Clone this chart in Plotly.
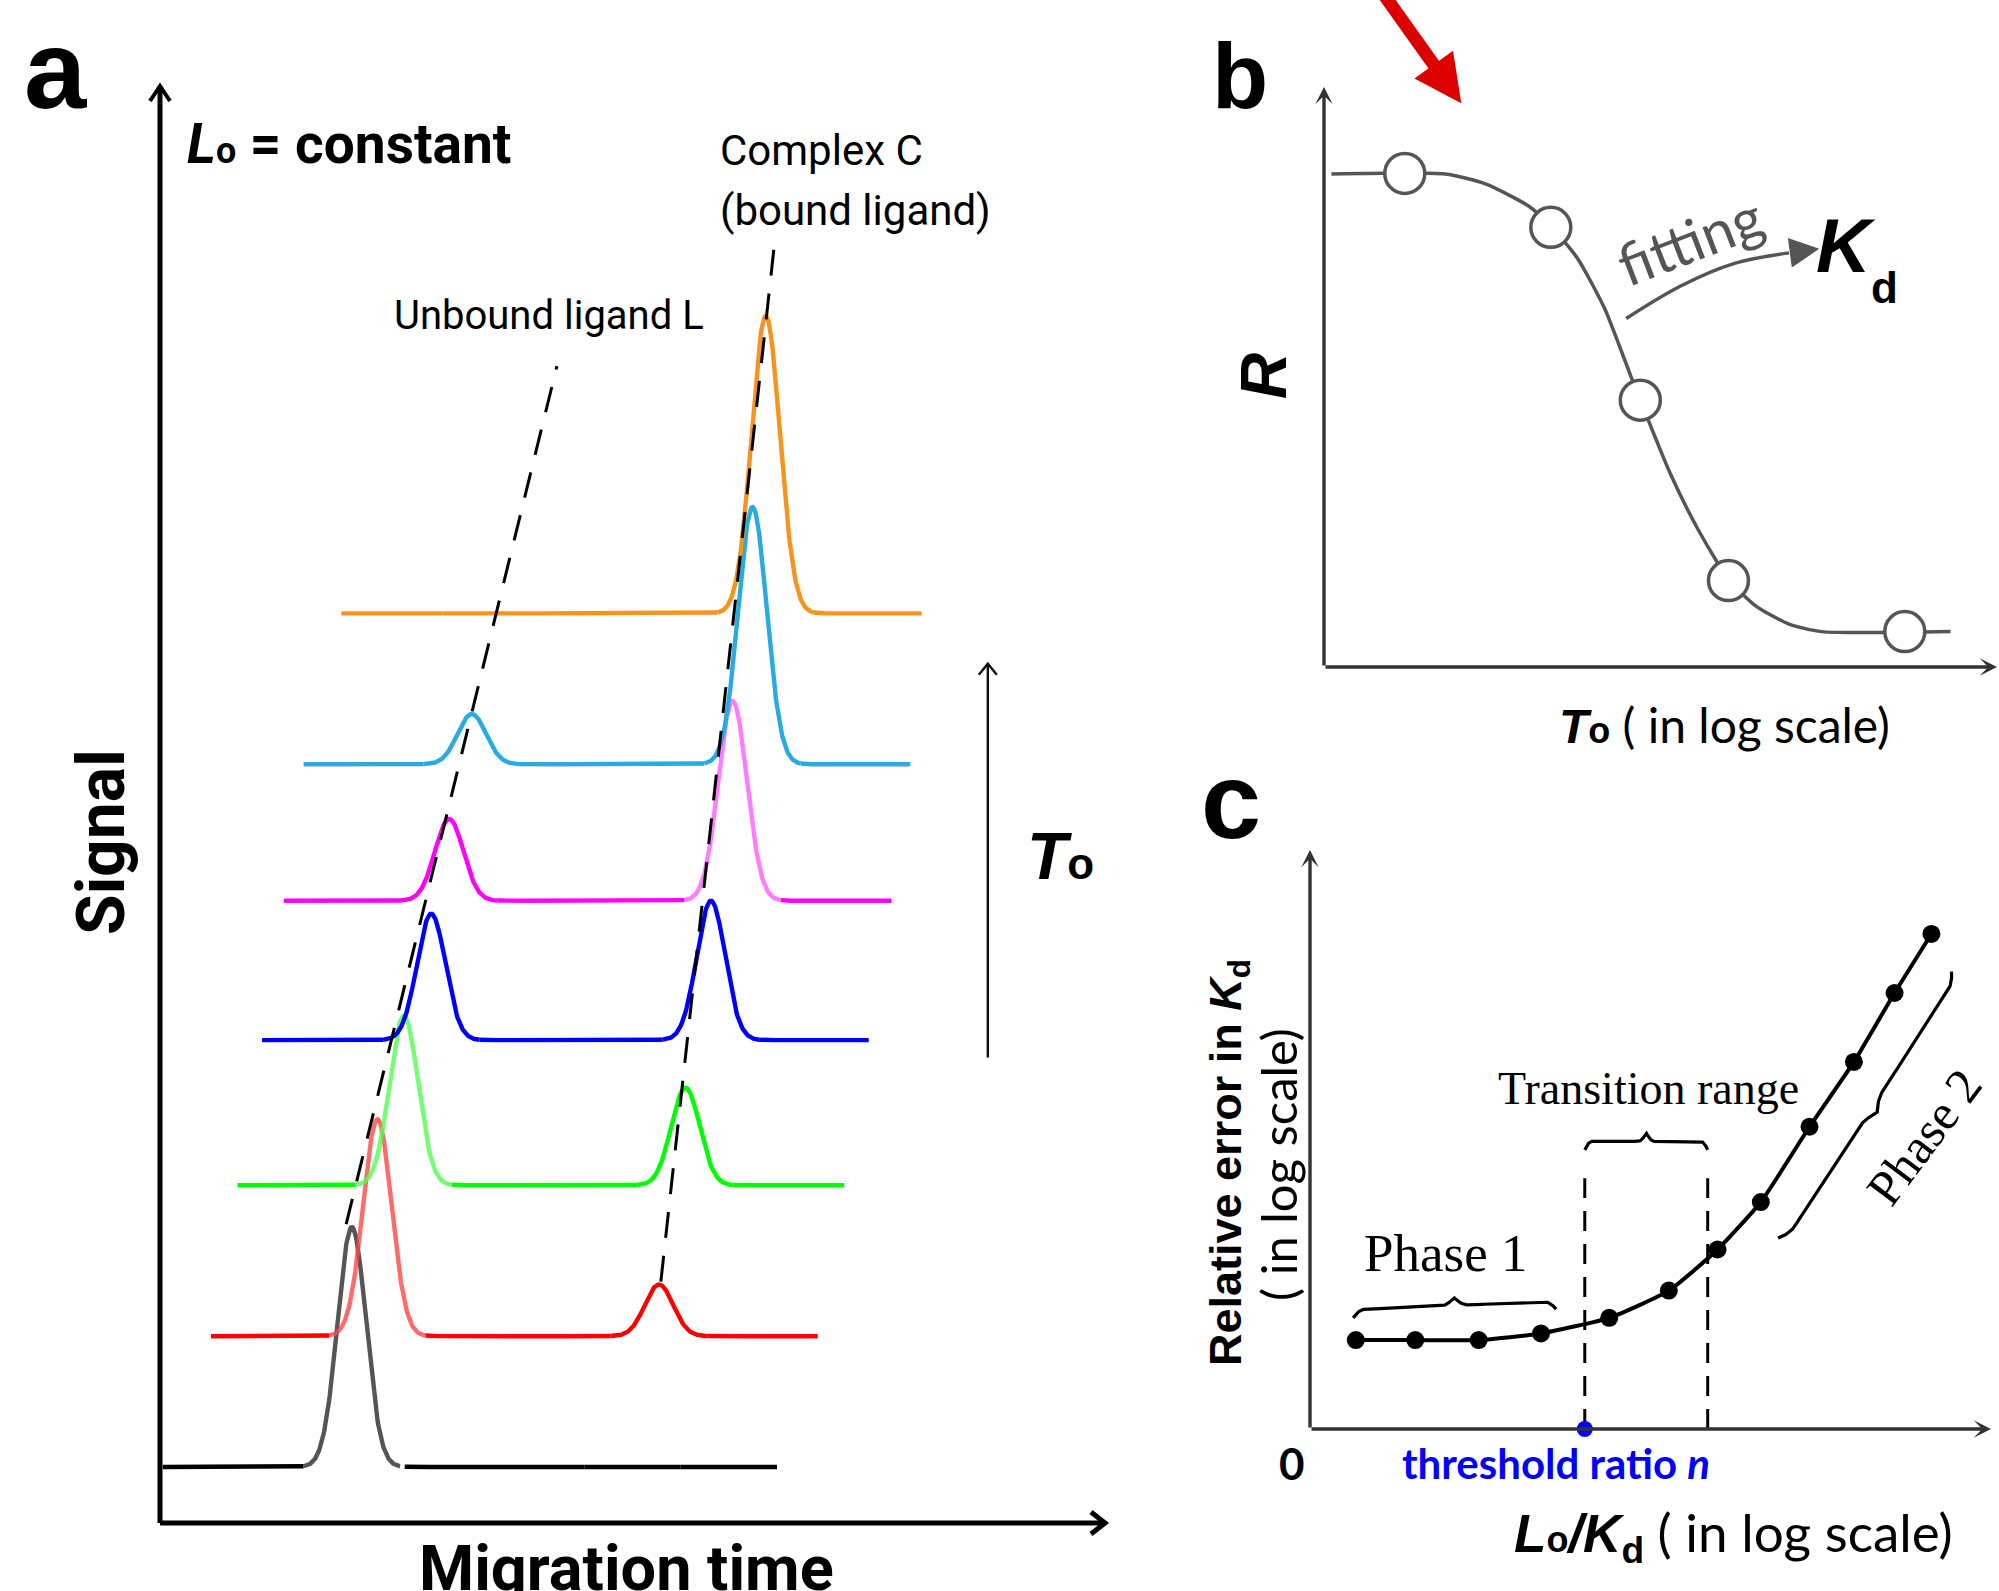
import numpy as np
import plotly.graph_objects as go

W, H = 1999, 1591

# ---------------- Panel a : electropherograms (migration time vs signal) ----------------
# traces listed from the bottom (ligand only) to the top (highest T0)
trace_colors = ["#000000", "#ff0000", "#00ff00", "#0000ff", "#ff00ff", "#29abe2", "#f7941d"]
free_peak_colors = ["#555555", "rgba(255,70,70,0.8)", "rgba(80,255,80,0.8)", "#0000ff",
                    "#ff00ff", "#29abe2", "#f7941d"]
complex_peak_colors = ["#000000", "#ff0000", "#00ff00", "#0000ff",
                       "rgba(255,90,255,0.8)", "#29abe2", "#f7941d"]
baseline_level = [3.9, 13.0, 23.5, 33.6, 43.3, 52.8, 63.3]
trace_start = [0.3, 5.4, 8.2, 10.8, 13.1, 15.2, 19.2]
trace_end = [65.3, 69.6, 72.4, 75.0, 77.4, 79.4, 80.6]
free_peak_time = [20.3, 23.0, 25.8, 28.7, 30.6, 33.0, 35.0]
free_peak_height = [16.7, 15.1, 11.8, 8.8, 5.7, 3.5, 0.0]
complex_peak_time = [50.0, 52.8, 55.6, 58.3, 60.6, 62.7, 64.1]
complex_peak_height = [0.0, 3.6, 6.8, 9.7, 13.9, 17.9, 20.7]
peak_sigma = 1.5
unbound_guide_x = [19.7, 42.0]
unbound_guide_y = [20.8, 80.5]
complex_guide_x = [53.0, 65.1]
complex_guide_y = [16.8, 89.5]
t0_arrow_x = [87.6, 87.6]
t0_arrow_y = [32.4, 59.8]

# ---------------- Panel b : R vs T0 (log) ----------------
b_logT0 = [1.20, 3.37, 4.70, 6.01, 8.63]
b_R = [0.851, 0.758, 0.460, 0.149, 0.061]
b_fit_logT0 = [0.11, 1.80, 2.40, 3.05, 3.37, 3.77, 4.17, 4.57, 4.70, 5.14, 5.54, 6.01,
               6.43, 6.91, 7.39, 9.31]
b_fit_R = [0.850, 0.850, 0.833, 0.794, 0.760, 0.704, 0.618, 0.498, 0.460, 0.335, 0.241,
           0.151, 0.104, 0.074, 0.061, 0.061]
b_fitting_arrow_x = [4.49, 5.30, 6.10, 6.91]
b_fitting_arrow_y = [0.601, 0.657, 0.696, 0.714]
b_fitting_tip = [7.36, 0.721]
b_red_arrow_tail = [0.70, 1.19]
b_red_arrow_tip = [2.04, 0.972]

# ---------------- Panel c : relative error vs L0/Kd (log) ----------------
c_ratio = [0.673, 1.546, 2.477, 3.392, 4.394, 5.269, 5.984, 6.620, 7.335, 7.987, 8.584, 9.125]
c_error = [0.1535, 0.1535, 0.1535, 0.165, 0.192, 0.239, 0.310, 0.392, 0.522, 0.634, 0.753, 0.855]
c_threshold = 4.035
c_transition_end = 5.84
c_guide_top = 0.433

# ---------------- layout calibration (pixel origin and pixels per unit) ----------------
CAL = {
    "a": dict(x0=160.0, sx=9.45, y0=1523.0, sy=14.37),
    "b": dict(x0=1324.0, sx=67.3, y0=667.0, sy=580.0),
    "c": dict(x0=1310.0, sx=68.1, y0=1429.0, sy=579.0),
}
AXN = {"a": ("x", "y"), "b": ("x2", "y2"), "c": ("x3", "y3")}


def to_px(p, x, y):
    c = CAL[p]
    return c["x0"] + c["sx"] * x, c["y0"] - c["sy"] * y


def to_data(p, X, Y):
    c = CAL[p]
    return (X - c["x0"]) / c["sx"], (c["y0"] - Y) / c["sy"]


fig = go.Figure()


def line(p, xs, ys, color, width, dash=None, shape="linear", smoothing=1.0):
    xa, ya = AXN[p]
    fig.add_trace(go.Scatter(x=list(xs), y=list(ys), mode="lines", xaxis=xa, yaxis=ya,
                             line=dict(color=color, width=width, dash=dash, shape=shape,
                                       smoothing=smoothing),
                             hoverinfo="skip", showlegend=False))


def chevron(p, x, y, ang_deg, color, width, L=15, Wd=10):
    # open arrow tip drawn in pixel geometry, converted to data units
    X, Y = to_px(p, x, y)
    a = np.deg2rad(ang_deg)
    ux, uy = np.cos(a), -np.sin(a)
    nx, ny = -uy, ux
    P1 = (X - ux * L + nx * Wd, Y - uy * L + ny * Wd)
    P2 = (X - ux * L - nx * Wd, Y - uy * L - ny * Wd)
    pts = [to_data(p, *P1), (x, y), to_data(p, *P2)]
    line(p, [q[0] for q in pts], [q[1] for q in pts], color, width)


def brace(p, x0, y0, x1, y1, depth, color="#000000", width=3.2, n=240):
    X0, Y0 = to_px(p, x0, y0)
    X1, Y1 = to_px(p, x1, y1)
    L = np.hypot(X1 - X0, Y1 - Y0)
    ux, uy = (X1 - X0) / L, (Y1 - Y0) / L
    nx, ny = uy, -ux
    xs, ys = [], []
    for t in np.linspace(0, 1, n):
        s = 2 * t if t <= 0.5 else 2 * (1 - t)
        a = min(s / 0.12, 1.0)
        st = 1 - (1 - a) ** 2
        b = max((s - 0.86) / 0.14, 0.0)
        en = b ** 2
        off = depth * (0.5 * st + 0.5 * en)
        X = X0 + (X1 - X0) * t + nx * off
        Y = Y0 + (Y1 - Y0) * t + ny * off
        dx, dy = to_data(p, X, Y)
        xs.append(dx)
        ys.append(dy)
    line(p, xs, ys, color, width)


# ---------- panel a traces ----------
win = 3.4 * peak_sigma
for i in range(len(trace_colors)):
    base = baseline_level[i]
    fp, fh = free_peak_time[i], free_peak_height[i]
    cp, ch = complex_peak_time[i], complex_peak_height[i]

    def sig(x):
        return (base + fh * np.exp(-0.5 * ((x - fp) / peak_sigma) ** 2)
                + ch * np.exp(-0.5 * ((x - cp) / peak_sigma) ** 2))

    segs = [(trace_start[i], fp - win, trace_colors[i]),
            (fp - win, fp + win, free_peak_colors[i]),
            (fp + win + (0.5 if i == 0 else 0), cp - win, trace_colors[i]),
            (cp - win, cp + win, complex_peak_colors[i]),
            (cp + win, trace_end[i], trace_colors[i])]
    for (s0, s1, col) in segs:
        xs = np.linspace(s0, s1, 160)
        line("a", xs, sig(xs), col, 4.4)

line("a", unbound_guide_x, unbound_guide_y, "#000000", 3, dash="26px,18px")
line("a", complex_guide_x, complex_guide_y, "#000000", 3, dash="26px,18px")

# axes of panel a
line("a", [0, 0], [0, 100], "#000000", 5)
line("a", [0, 100], [0, 0], "#000000", 5)
chevron("a", 0, 100, 90, "#000000", 4, L=15, Wd=10)
chevron("a", 100, 0, 0, "#000000", 5, L=14, Wd=11)
# T0 arrow
line("a", t0_arrow_x, t0_arrow_y, "#111111", 2.4)
chevron("a", t0_arrow_x[1], t0_arrow_y[1], 90, "#111111", 2.4, L=11, Wd=9)

# ---------- panel b ----------
line("b", b_fit_logT0, b_fit_R, "#555555", 3.5, shape="spline", smoothing=0.6)
fig.add_trace(go.Scatter(x=b_logT0, y=b_R, mode="markers", xaxis="x2", yaxis="y2",
                         marker=dict(size=40, color="white",
                                     line=dict(color="#555555", width=3.5)),
                         hoverinfo="skip", showlegend=False))
line("b", b_fitting_arrow_x, b_fitting_arrow_y, "#555555", 3.5, shape="spline")

# ---------- panel c ----------
line("c", [c_threshold, c_threshold], [0, c_guide_top], "#000000", 3, dash="20px,13px")
line("c", [c_transition_end, c_transition_end], [0, c_guide_top], "#000000", 3,
     dash="20px,13px")
line("c", c_ratio, c_error, "#000000", 4, shape="spline", smoothing=0.5)
fig.add_trace(go.Scatter(x=c_ratio, y=c_error, mode="markers", xaxis="x3", yaxis="y3",
                         marker=dict(size=18, color="#000000"),
                         hoverinfo="skip", showlegend=False))
fig.add_trace(go.Scatter(x=[c_threshold], y=[0], mode="markers", xaxis="x3", yaxis="y3",
                         marker=dict(size=16, color="#0000ff"),
                         hoverinfo="skip", showlegend=False, cliponaxis=False))
brace("c", c_threshold, 0.482, c_transition_end, 0.482, 17)
brace("c", 0.633, 0.192, 3.614, 0.207, 16)
brace("c", 6.874, 0.330, 9.419, 0.790, -15)

# ---------- arrows (axes of b and c, fitting, red pointer) ----------
annotations = []


def arrow(p, tail, tip, color, width, head, size):
    xa, ya = AXN[p]
    annotations.append(dict(x=tip[0], y=tip[1], ax=tail[0], ay=tail[1], xref=xa, yref=ya,
                            axref=xa, ayref=ya, showarrow=True, arrowhead=head,
                            arrowsize=size, arrowwidth=width, arrowcolor=color, text=""))


arrow("b", (0, 0), (0, 1.0), "#333333", 3.4, 3, 0.85)
arrow("b", (0, 0), (10.0, 0), "#333333", 3.4, 3, 0.85)
arrow("c", (0, 0), (0, 1.0), "#333333", 3.4, 3, 0.85)
arrow("c", (0, 0), (10.0, 0), "#333333", 3.4, 3, 0.85)
arrow("b", (b_fitting_arrow_x[-1], b_fitting_arrow_y[-1]), b_fitting_tip, "#555555", 3.5, 2, 1.7)
arrow("b", b_red_arrow_tail, b_red_arrow_tip, "#dd0000", 13, 2, 0.73)


def txt(s, X, Y, size, family="Liberation Sans", color="#000000", angle=0,
        xanchor="center", yanchor="middle"):
    annotations.append(dict(text=s, x=X / W, y=1 - Y / H, xref="paper", yref="paper",
                            showarrow=False, textangle=angle, xanchor=xanchor,
                            yanchor=yanchor, font=dict(size=size, family=family, color=color)))


NARROW = "Liberation Sans Narrow, Arial Narrow, Roboto, sans-serif"
CAL_F = "Lato, Open Sans, sans-serif"
SERIF = "Liberation Serif, Times New Roman, serif"

# panel letters
txt("<b>a</b>", 55, 70, 112)
txt("<b>b</b>", 1240, 76, 92)
txt("<b>c</b>", 1231, 800, 108)

# panel a text
txt("<b><i>L</i><span style='font-size:36px'>o</span> = constant</b>", 185, 144, 55,
    NARROW, xanchor="left")
txt("Complex C", 718, 150, 42, NARROW, xanchor="left")
txt("(bound ligand)", 718, 210, 42, NARROW, xanchor="left")
txt("Unbound ligand L", 549, 315, 40, NARROW)
txt("<b>Signal</b>", 101, 842, 66, NARROW, angle=-90)
txt("<b>Migration time</b>", 626, 1568, 63, NARROW)
txt("<b><i>T</i><span style='font-size:44px'>o</span></b>", 1060, 856, 66)

# panel b text
txt("<b><i>R</i></b>", 1264, 376, 64, angle=-90)
txt("<b><i>T</i><span style='font-size:36px'>o</span></b>"
    "<span style='font-family:Lato'> ( in log scale)</span>", 1724, 724, 48)
txt("fitting", 1690, 240, 58, CAL_F, color="#555555", angle=-21)
txt("<b><i>K</i></b>", 1846, 246, 76)
txt("<b>d</b>", 1884, 288, 44)

# panel c text
txt("Transition range", 1648, 1088, 46, SERIF)
txt("Phase 1", 1445, 1253, 53, SERIF)
txt("Phase 2", 1924, 1137, 50, SERIF, angle=-53)
txt("<b>threshold ratio <i>n</i></b>", 1556, 1463, 42, CAL_F, color="#0000ff")
txt("<b>0</b>", 1292, 1463, 44, CAL_F)
txt("<b><i>L</i><span style='font-size:36px'>o</span><i>/K</i></b>"
    "<sub><b>d</b></sub><span style='font-family:Lato'> ( in log scale)</span>",
    1733, 1535, 53)
txt("<b>Relative error in <i>K</i><sub>d</sub></b>", 1228, 1163, 45, angle=-90)
txt("( in log scale)", 1278, 1165, 49, CAL_F, angle=-90)

layout_axes = {}
for k, p in enumerate(["a", "b", "c"]):
    sfx = "" if k == 0 else str(k + 1)
    x_lo, y_lo = to_data(p, 0, H)
    x_hi, y_hi = to_data(p, W, 0)
    layout_axes["xaxis" + sfx] = dict(domain=[0, 1], range=[x_lo, x_hi], visible=False,
                                      fixedrange=True, anchor="y" + sfx)
    layout_axes["yaxis" + sfx] = dict(domain=[0, 1], range=[y_lo, y_hi], visible=False,
                                      fixedrange=True, anchor="x" + sfx)

fig.update_layout(width=W, height=H, margin=dict(l=0, r=0, t=0, b=0),
                  paper_bgcolor="white", plot_bgcolor="rgba(0,0,0,0)",
                  showlegend=False, annotations=annotations, **layout_axes)

fig.write_html("out.html", config={"displayModeBar": False},
               post_script="document.body.style.margin='0';")
